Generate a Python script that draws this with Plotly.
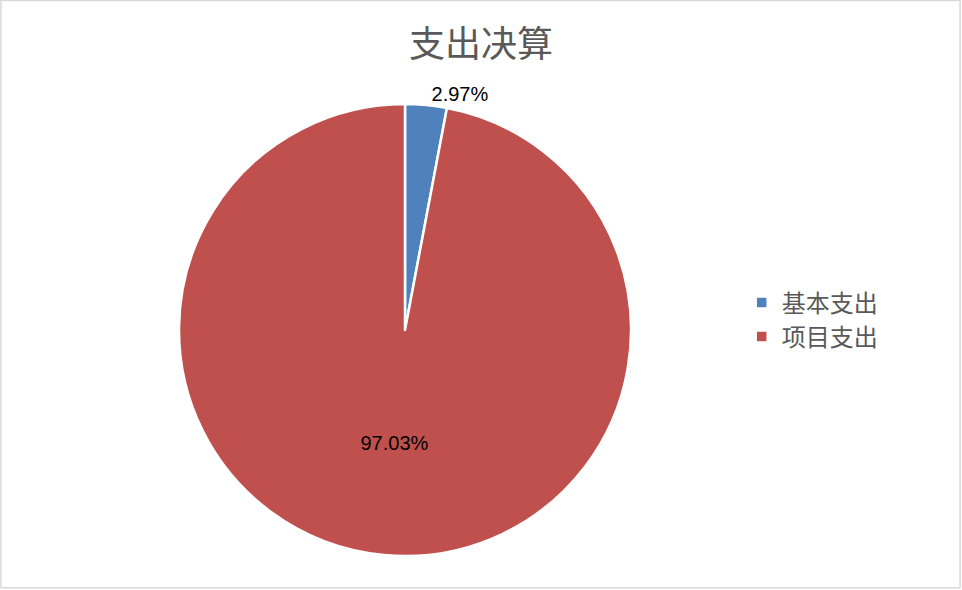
import plotly.graph_objects as go

# chart data
labels = ["基本支出", "项目支出"]
values = [2.97, 97.03]
text_labels = ["2.97%", "97.03%"]
colors = ["#4F81BD", "#C0504D"]

fig = go.Figure()

fig.add_trace(go.Pie(
    labels=labels,
    values=values,
    text=text_labels,
    textinfo="text",
    textposition=["outside", "inside"],
    textfont=dict(family="Liberation Sans, Arial", size=20, color="#000000"),
    sort=False,
    direction="clockwise",
    rotation=0,
    marker=dict(colors=colors, line=dict(color="#FFFFFF", width=2.5)),
    domain=dict(x=[0.186, 0.656], y=[0.0576, 0.8237]),
    showlegend=True,
))

fig.update_layout(
    width=962,
    height=590,
    margin=dict(l=0, r=0, t=0, b=0),
    paper_bgcolor="#FFFFFF",
    plot_bgcolor="#FFFFFF",
    title=dict(
        text="支出决算",
        x=0.5,
        xanchor="center",
        y=0.925,
        yanchor="middle",
        font=dict(family="Noto Sans CJK SC", size=36, color="#595959"),
    ),
    legend=dict(
        x=0.771,
        xanchor="left",
        y=0.458,
        yanchor="middle",
        font=dict(family="Noto Sans CJK SC", size=24, color="#595959"),
        itemwidth=30,
    ),
    shapes=[dict(
        type="rect", xref="paper", yref="paper",
        x0=0.001, y0=0.004, x1=0.998, y1=0.999,
        line=dict(color="#D9D9D9", width=1.5),
    )],
)

# drop the default page margin so the figure sits at the window corner
fig.write_html(
    "out.html",
    config={"displayModeBar": False},
    post_script="document.body.style.margin='0';",
)
